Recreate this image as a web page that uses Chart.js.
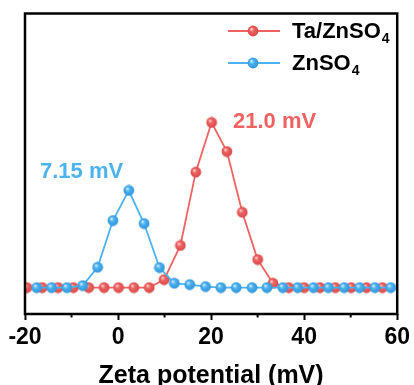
<!DOCTYPE html>
<html>
<head>
<meta charset="utf-8">
<script src="https://cdn.jsdelivr.net/npm/chart.js@4"></script>
<style>
  html, body { margin: 0; padding: 0; background: #fff; }
  canvas { display: block; }
</style>
</head>
<body>
<canvas id="zeta" width="414" height="385"></canvas>
<script>
// zeta potential (mV) and intensity (a.u.)
const taPotential = [-19.6, -16.3, -12.9, -9.6, -6.3, -3.0, 0.1, 3.4, 6.7, 9.9, 13.4, 16.7,
  20.1, 23.4, 26.7, 30.0, 33.3, 36.7, 40.0, 43.4, 46.7, 50.1, 53.4, 56.8]
const taIntensity = [0, 0, 0, 0, 0, 0, 0, 0, 0, 4.8, 25.5, 69.9,
  100, 82.4, 45.6, 17.0, 2.6, 0, 0, 0, 0, 0, 0, 0]

const znPotential = [-17.5, -14.3, -11.0, -7.6, -4.4, -1.1, 2.3, 5.6, 8.9, 12.1, 15.4, 18.8,
  22.1, 25.4, 28.8, 32.0, 35.4, 38.6, 42.0, 45.2, 48.6, 51.9, 55.2, 58.6]
const znIntensity = [0, 0, 0, 1.2, 12.3, 40.6, 58.8, 38.8, 12.1, 2.6, 1.8, 0.6,
  0, 0, 0, 0, 0, 0, 0, 0, 0, 0, 0, 0]

const majorTicks = [-20, 0, 20, 40, 60]
const minorTicks = [-10, 10, 30, 50]

const RED = '#EE6262'
const BLUE = '#4DB2F0'
const FONT = '"Liberation Sans", Arial, sans-serif'

function toPoints(xs, ys) {
  return xs.map((x, i) => ({x: x, y: ys[i]}))
}

// little shaded ball used as marker
function sphere(color, light, dark) {
  const c = document.createElement('canvas')
  c.width = 12
  c.height = 12
  const g = c.getContext('2d')
  const grad = g.createRadialGradient(4.3, 4, 0.3, 6, 6, 5.8)
  grad.addColorStop(0, light)
  grad.addColorStop(0.35, color)
  grad.addColorStop(1, dark)
  g.fillStyle = grad
  g.beginPath()
  g.arc(6, 6, 5.4, 0, Math.PI * 2)
  g.fill()
  return c
}

const redBall = sphere(RED, '#ffd6d6', '#d84848')
const blueBall = sphere(BLUE, '#d6f0ff', '#2d93d6')

function textWithSub(ctx, x, y, main, sub, color) {
  ctx.fillStyle = color
  ctx.textBaseline = 'middle'
  ctx.textAlign = 'left'
  ctx.font = 'bold 22px ' + FONT
  ctx.fillText(main, x, y)
  const w = ctx.measureText(main).width
  if (sub) {
    ctx.font = 'bold 14px ' + FONT
    ctx.fillText(sub, x + w + 1, y + 7)
  }
}

const decorations = {
  id: 'decorations',
  afterDatasetsDraw(chart) {
    const ctx = chart.ctx
    const area = chart.chartArea
    const xs = chart.scales.x
    ctx.save()
    // frame
    ctx.strokeStyle = '#000'
    ctx.lineWidth = 2.5
    ctx.strokeRect(area.left, area.top, area.right - area.left, area.bottom - area.top)
    // minor ticks
    ctx.lineWidth = 2
    minorTicks.forEach(v => {
      const px = xs.getPixelForValue(v)
      ctx.beginPath()
      ctx.moveTo(px, area.bottom)
      ctx.lineTo(px, area.bottom + 3.5)
      ctx.stroke()
    })
    // legend
    const rows = [
      {y: 31, color: RED, ball: redBall, main: 'Ta/ZnSO', sub: '4'},
      {y: 63, color: BLUE, ball: blueBall, main: 'ZnSO', sub: '4'}
    ]
    rows.forEach(r => {
      ctx.strokeStyle = r.color
      ctx.lineWidth = 1.8
      ctx.beginPath()
      ctx.moveTo(228, r.y)
      ctx.lineTo(280, r.y)
      ctx.stroke()
      ctx.drawImage(r.ball, 253 - 6, r.y - 6)
      textWithSub(ctx, 292, r.y + 1, r.main, r.sub, '#000')
    })
    // peak labels
    textWithSub(ctx, 233, 122, '21.0 mV', '', RED)
    textWithSub(ctx, 40, 172, '7.15 mV', '', BLUE)
    ctx.restore()
  }
}

new Chart(document.getElementById('zeta'), {
  type: 'line',
  data: {
    datasets: [
      {
        label: 'Ta/ZnSO4',
        data: toPoints(taPotential, taIntensity),
        borderColor: RED,
        borderWidth: 1.8,
        pointStyle: redBall,
        pointRadius: 6,
        order: 1
      },
      {
        label: 'ZnSO4',
        data: toPoints(znPotential, znIntensity),
        borderColor: BLUE,
        borderWidth: 1.8,
        pointStyle: blueBall,
        pointRadius: 6,
        order: 0
      }
    ]
  },
  options: {
    responsive: false,
    animation: false,
    devicePixelRatio: 1,
    layout: {
      padding: {left: 25, right: 13, top: 13.5, bottom: 0}
    },
    plugins: {
      legend: {display: false},
      tooltip: {enabled: false}
    },
    scales: {
      x: {
        type: 'linear',
        min: -20,
        max: 60,
        afterFit: s => { s.height = 71 },
        afterBuildTicks: s => { s.ticks = majorTicks.map(v => ({value: v})) },
        ticks: {
          autoSkip: false,
          maxRotation: 0,
          padding: 4,
          color: '#000',
          font: {family: FONT, size: 23, weight: 'bold'}
        },
        grid: {
          drawOnChartArea: false,
          tickLength: 6,
          tickWidth: 2,
          tickColor: '#000'
        },
        border: {display: false},
        title: {
          display: true,
          text: 'Zeta potential (mV)',
          color: '#000',
          font: {family: FONT, size: 25, weight: 'bold', lineHeight: 1},
          padding: {top: 0, bottom: -4}
        }
      },
      y: {
        display: false,
        min: -16,
        max: 166
      }
    }
  },
  plugins: [decorations]
})
</script>
</body>
</html>
